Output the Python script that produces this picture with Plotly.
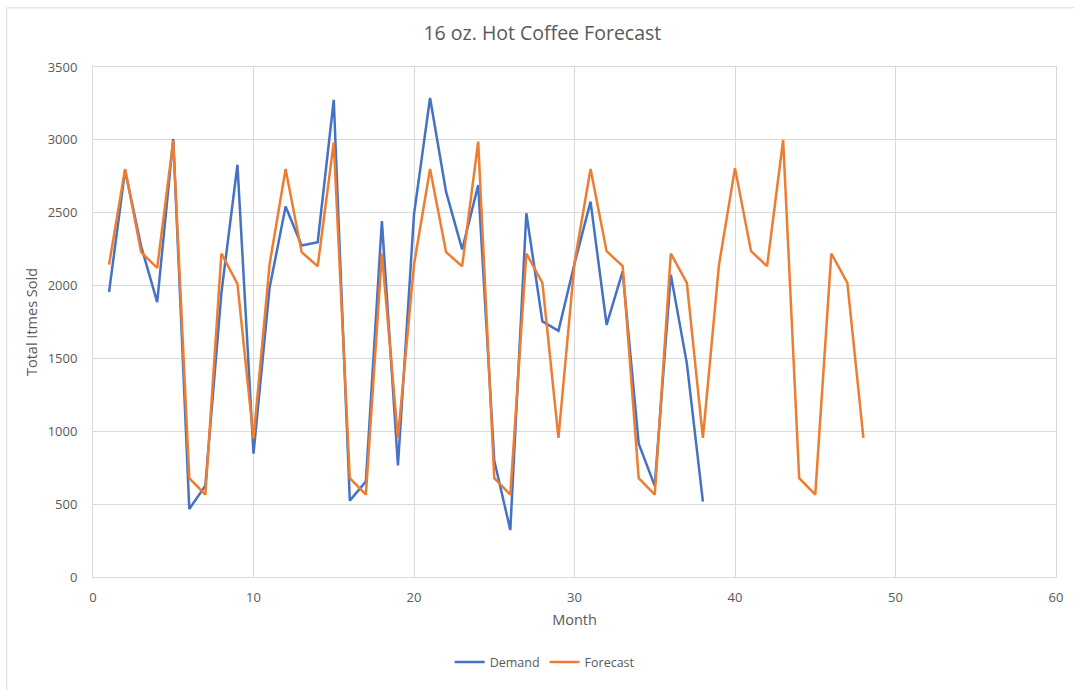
import plotly.graph_objects as go

months_demand = list(range(1, 39))
demand = [1956, 2790, 2270, 1887, 3006, 467, 627, 1950, 2829, 846,
          1983, 2542, 2275, 2298, 3275, 524, 655, 2443, 765, 2489,
          3287, 2643, 2248, 2689, 800, 322, 2496, 1754, 1689, 2150,
          2576, 1731, 2098, 915, 625, 2075, 1466, 517]

months_forecast = list(range(1, 49))
forecast = [2144, 2800, 2229, 2121, 2995, 678, 565, 2220, 2011, 949,
            2144, 2800, 2229, 2133, 2983, 678, 565, 2220, 954, 2144,
            2800, 2229, 2133, 2988, 678, 565, 2220, 2018, 954, 2156,
            2800, 2236, 2133, 678, 565, 2220, 2018, 954, 2140, 2806,
            2236, 2133, 2999, 678, 565, 2220, 2018, 954]

title_text = "16 oz. Hot Coffee Forecast"
x_title = "Month"
y_title = "Total Itmes Sold"

FONT = "Open Sans, Liberation Sans, sans-serif"
GRAY = "#595959"
GRID = "#D9D9D9"

fig = go.Figure()
fig.add_trace(go.Scatter(x=months_demand, y=demand, mode="lines", name="Demand",
                         line=dict(color="#4472C4", width=2.5)))
fig.add_trace(go.Scatter(x=months_forecast, y=forecast, mode="lines", name="Forecast",
                         line=dict(color="#ED7D31", width=2.5)))

fig.update_layout(
    width=1074, height=690,
    paper_bgcolor="white", plot_bgcolor="white",
    margin=dict(l=93, r=18, t=67, b=108),
    font=dict(family=FONT, color=GRAY, size=12),
    title=dict(text=title_text, x=0.505, xanchor="center", y=0.952, yanchor="middle",
               font=dict(family=FONT, size=19.5, color=GRAY)),
    showlegend=True,
    legend=dict(orientation="h", x=0.469, xanchor="center", y=-0.1676, yanchor="middle",
                font=dict(family=FONT, size=12.5, color=GRAY), itemwidth=30),
    shapes=[dict(type="rect", xref="paper", yref="paper",
                 x0=-0.0896, x1=1.06, y0=-0.25, y1=1.116,
                 line=dict(color="#D9D9D9", width=1), layer="below")],
)
fig.update_xaxes(range=[0, 60], dtick=10, tick0=0, showgrid=True, gridcolor=GRID, gridwidth=1,
                 zeroline=False, showline=True, linecolor=GRID, mirror=True,
                 ticks="", ticklabelstandoff=8,
                 tickfont=dict(size=13, color=GRAY),
                 title=dict(text=x_title, font=dict(size=14.5, color=GRAY), standoff=10))
fig.update_yaxes(range=[0, 3500], dtick=500, tick0=0, showgrid=True, gridcolor=GRID, gridwidth=1,
                 zeroline=False, showline=True, linecolor=GRID, mirror=True,
                 ticks="", ticklabelstandoff=12,
                 tickfont=dict(size=13, color=GRAY),
                 title=dict(text=y_title, font=dict(size=14.5, color=GRAY), standoff=6))

fig.write_html("out.html", config={"displayModeBar": False},
               post_script="document.body.style.margin='0';document.body.style.overflow='hidden';")
